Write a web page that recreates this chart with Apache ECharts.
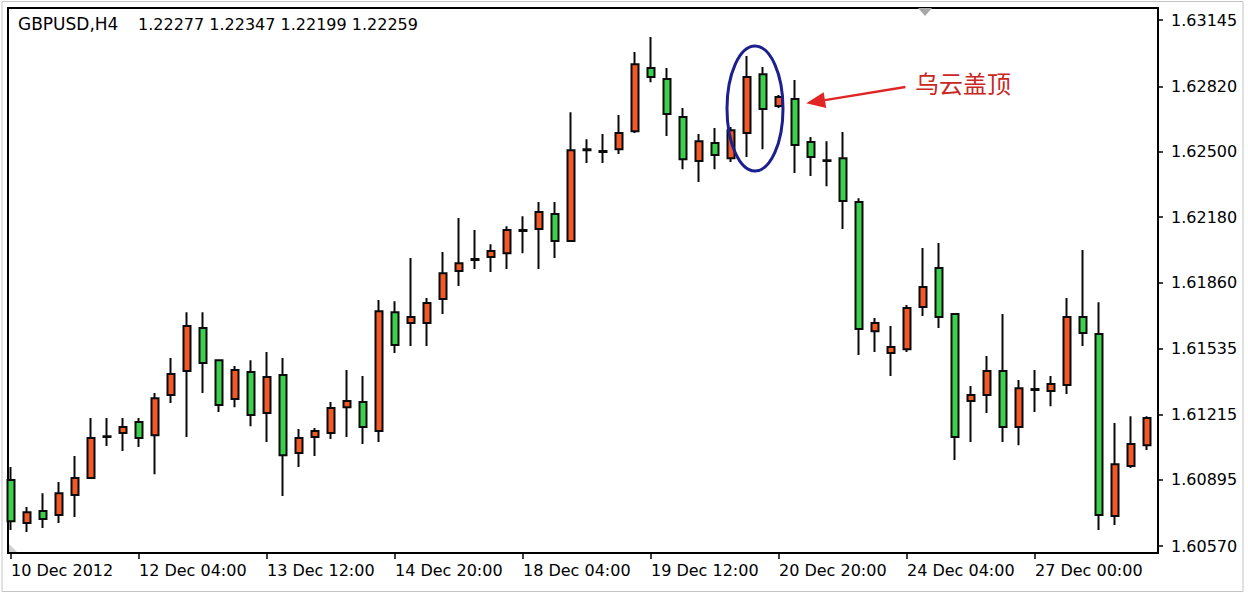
<!DOCTYPE html>
<html><head><meta charset="utf-8">
<script src="https://cdn.jsdelivr.net/npm/echarts@6/dist/echarts.min.js"></script>
<style>html,body{margin:0;padding:0;background:#fff;} #chart{width:1248px;height:598px;}</style>
</head><body><div id="chart"></div>
<script>
const symbolName = 'GBPUSD,H4';
const symbolQuote = ['1.22277', '1.22347', '1.22199', '1.22259'];
const xLabels = ['10 Dec 2012','12 Dec 04:00','13 Dec 12:00','14 Dec 20:00','18 Dec 04:00','19 Dec 12:00','20 Dec 20:00','24 Dec 04:00','27 Dec 00:00'];
const barsPerLabel = 8;
const yTicks = [1.60570,1.60895,1.61215,1.61535,1.61860,1.62180,1.62500,1.62820,1.63145];

const opens = [1.60893,1.60683,1.60741,1.60722,1.60820,1.60903,1.61104,1.61123,1.61177,1.61113,
 1.61309,1.61427,1.61637,1.61480,1.61290,1.61422,1.61221,1.61407,1.61025,1.61104,
 1.61123,1.61250,1.61275,1.61133,1.61715,1.61662,1.61662,1.61779,1.61916,1.61970,
 1.61985,1.62004,1.62112,1.62122,1.62195,1.62063,1.62508,1.62499,1.62513,1.62601,
 1.62910,1.62856,1.62670,1.62455,1.62543,1.62469,1.62592,1.62880,1.62724,1.62758,
 1.62548,1.62459,1.62469,1.62254,1.61622,1.61515,1.61534,1.61740,1.61931,1.61706,
 1.61280,1.61309,1.61427,1.61153,1.61334,1.61329,1.61358,1.61691,1.61608,1.60717,
 1.60962,1.61064];
const closes = [1.60692,1.60736,1.60702,1.60829,1.60903,1.61099,1.61108,1.61153,1.61099,1.61294,
 1.61412,1.61647,1.61466,1.61260,1.61432,1.61211,1.61397,1.61015,1.61099,1.61133,
 1.61246,1.61280,1.61153,1.61720,1.61554,1.61691,1.61760,1.61906,1.61955,1.61975,
 1.62014,1.62117,1.62117,1.62205,1.62063,1.62508,1.62513,1.62504,1.62592,1.62929,
 1.62866,1.62685,1.62464,1.62552,1.62484,1.62606,1.62866,1.62709,1.62768,1.62533,
 1.62474,1.62455,1.62259,1.61632,1.61662,1.61544,1.61735,1.61838,1.61691,1.61104,
 1.61309,1.61427,1.61153,1.61343,1.61339,1.61363,1.61691,1.61613,1.60722,1.60971,
 1.61069,1.61197];
const lows = [1.60648,1.60639,1.60658,1.60683,1.60712,1.60903,1.61060,1.61035,1.61055,1.60922,
 1.61270,1.61104,1.61319,1.61226,1.61250,1.61157,1.61079,1.60815,1.60957,1.61011,
 1.61094,1.61104,1.61069,1.61079,1.61515,1.61549,1.61549,1.61706,1.61843,1.61926,
 1.61911,1.61926,1.62004,1.61926,1.61980,1.62058,1.62445,1.62445,1.62489,1.62592,
 1.62841,1.62577,1.62415,1.62352,1.62415,1.62450,1.62474,1.62513,1.62714,1.62396,
 1.62381,1.62332,1.62122,1.61505,1.61520,1.61402,1.61520,1.61696,1.61637,1.60991,
 1.61079,1.61221,1.61079,1.61064,1.61226,1.61255,1.61314,1.61549,1.60648,1.60673,
 1.60952,1.61040];
const highs = [1.60957,1.60761,1.60829,1.60883,1.61011,1.61197,1.61197,1.61197,1.61197,1.61319,
 1.61490,1.61715,1.61715,1.61480,1.61451,1.61480,1.61520,1.61490,1.61143,1.61148,
 1.61275,1.61432,1.61402,1.61774,1.61769,1.61980,1.61784,1.62009,1.62176,1.62117,
 1.62048,1.62136,1.62185,1.62254,1.62254,1.62694,1.62562,1.62587,1.62680,1.62988,
 1.63062,1.62910,1.62714,1.62587,1.62616,1.62621,1.62969,1.62915,1.62778,1.62851,
 1.62572,1.62552,1.62597,1.62273,1.61686,1.61647,1.61750,1.62029,1.62053,1.61706,
 1.61353,1.61500,1.61706,1.61383,1.61432,1.61402,1.61784,1.62019,1.61764,1.61172,
 1.61206,1.61206];

const annotationText = '乌云盖顶';
// annotation anchors in data space: [bar index, price]
const ellipseCenter = [46.5, 1.62712];
const arrowTip = [49.7, 1.62738];
const arrowTail = [55.9, 1.62817];
const textAnchor = [56.5, 1.62841];

const candleData = opens.map((o, i) => [i, o, closes[i], lows[i], highs[i]]);
const xTickValues = xLabels.map((_, k) => k * barsPerLabel);

const chart = echarts.init(document.getElementById('chart'), null, {renderer: 'svg'});
const FONT = '"DejaVu Sans", Verdana, sans-serif';
chart.setOption({
  animation: false,
  backgroundColor: '#fff',
  grid: {left: 8, right: 90, top: 8, bottom: 45, containLabel: false, outerBoundsMode: 'none',
         show: true, borderColor: '#000', borderWidth: 2, backgroundColor: '#fff'},
  xAxis: {
    type: 'value', min: -0.1875, max: 71.6875,
    axisLine: {show: true, onZero: false, lineStyle: {color: '#000', width: 2}},
    axisTick: {show: true, customValues: xTickValues, length: 6, lineStyle: {color: '#000', width: 1.5}},
    axisLabel: {customValues: xTickValues, formatter: v => xLabels[Math.round(v / barsPerLabel)],
                align: 'left', margin: 9, color: '#000', fontSize: 16, fontFamily: FONT},
    splitLine: {show: false}
  },
  yAxis: {
    type: 'value', position: 'right', min: 1.60536, max: 1.63204,
    axisLine: {show: true, onZero: false, lineStyle: {color: '#000', width: 2}},
    axisTick: {show: true, customValues: yTicks, length: 5, lineStyle: {color: '#000', width: 1.5}},
    axisLabel: {customValues: yTicks, formatter: v => v.toFixed(5), margin: 13,
                color: '#000', fontSize: 16, fontFamily: FONT},
    splitLine: {show: false}
  },
  series: [{
    type: 'candlestick', data: candleData, barWidth: 8, clip: true,
    itemStyle: {color: '#ef5a26', color0: '#3ccf4c', borderColor: '#0a0a0a', borderColor0: '#0a0a0a', borderWidth: 2}
  }]
});

const P = (pt) => chart.convertToPixel({gridIndex: 0}, pt);
const ec = P(ellipseCenter), tip = P(arrowTip), tail = P(arrowTail), ta = P(textAnchor);
const dx = tail[0] - tip[0], dy = tail[1] - tip[1];
const len = Math.sqrt(dx * dx + dy * dy), ux = dx / len, uy = dy / len;
const headLen = 19, headHalf = 8;
const bx = tip[0] + ux * headLen, by = tip[1] + uy * headLen;
const head = [[tip[0], tip[1]], [bx - uy * headHalf, by + ux * headHalf], [bx + uy * headHalf, by - ux * headHalf]];

chart.setOption({
  graphic: [
    {type: 'rect', z: 0, silent: true, shape: {x: 2, y: 1.5, width: 1241, height: 590},
     style: {fill: 'none', stroke: '#c4c4c4', lineWidth: 1}},
    {type: 'text', x: 18, y: 24, z: 10, style: {text: symbolName, font: '17px ' + FONT, fill: '#000', verticalAlign: 'middle'}},
    {type: 'text', x: 138, y: 24, z: 10, style: {text: symbolQuote.join('\u00a0'), font: '16px ' + FONT, fill: '#000', verticalAlign: 'middle'}},
    {type: 'polygon', z: 10, shape: {points: [[918, 8], [932, 8], [925, 16]]}, style: {fill: '#a8a8a8'}},
    {type: 'polygon', z: 10, shape: {points: [[9, 544], [9, 552], [17, 552]]}, style: {fill: '#cfcfcf'}},
    {type: 'ellipse', z: 10, shape: {cx: ec[0], cy: ec[1], rx: 28, ry: 62.5},
     style: {fill: 'none', stroke: '#1c1f8e', lineWidth: 3}},
    {type: 'line', z: 10, shape: {x1: tail[0], y1: tail[1], x2: bx, y2: by},
     style: {stroke: '#e02525', lineWidth: 2.5}},
    {type: 'polygon', z: 10, shape: {points: head}, style: {fill: '#e02525'}},
    {type: 'text', x: ta[0], y: ta[1], z: 10,
     style: {text: annotationText, font: '24px "Noto Sans CJK SC", sans-serif', fill: '#c8281f', verticalAlign: 'middle'}}
  ]
});
</script></body></html>
